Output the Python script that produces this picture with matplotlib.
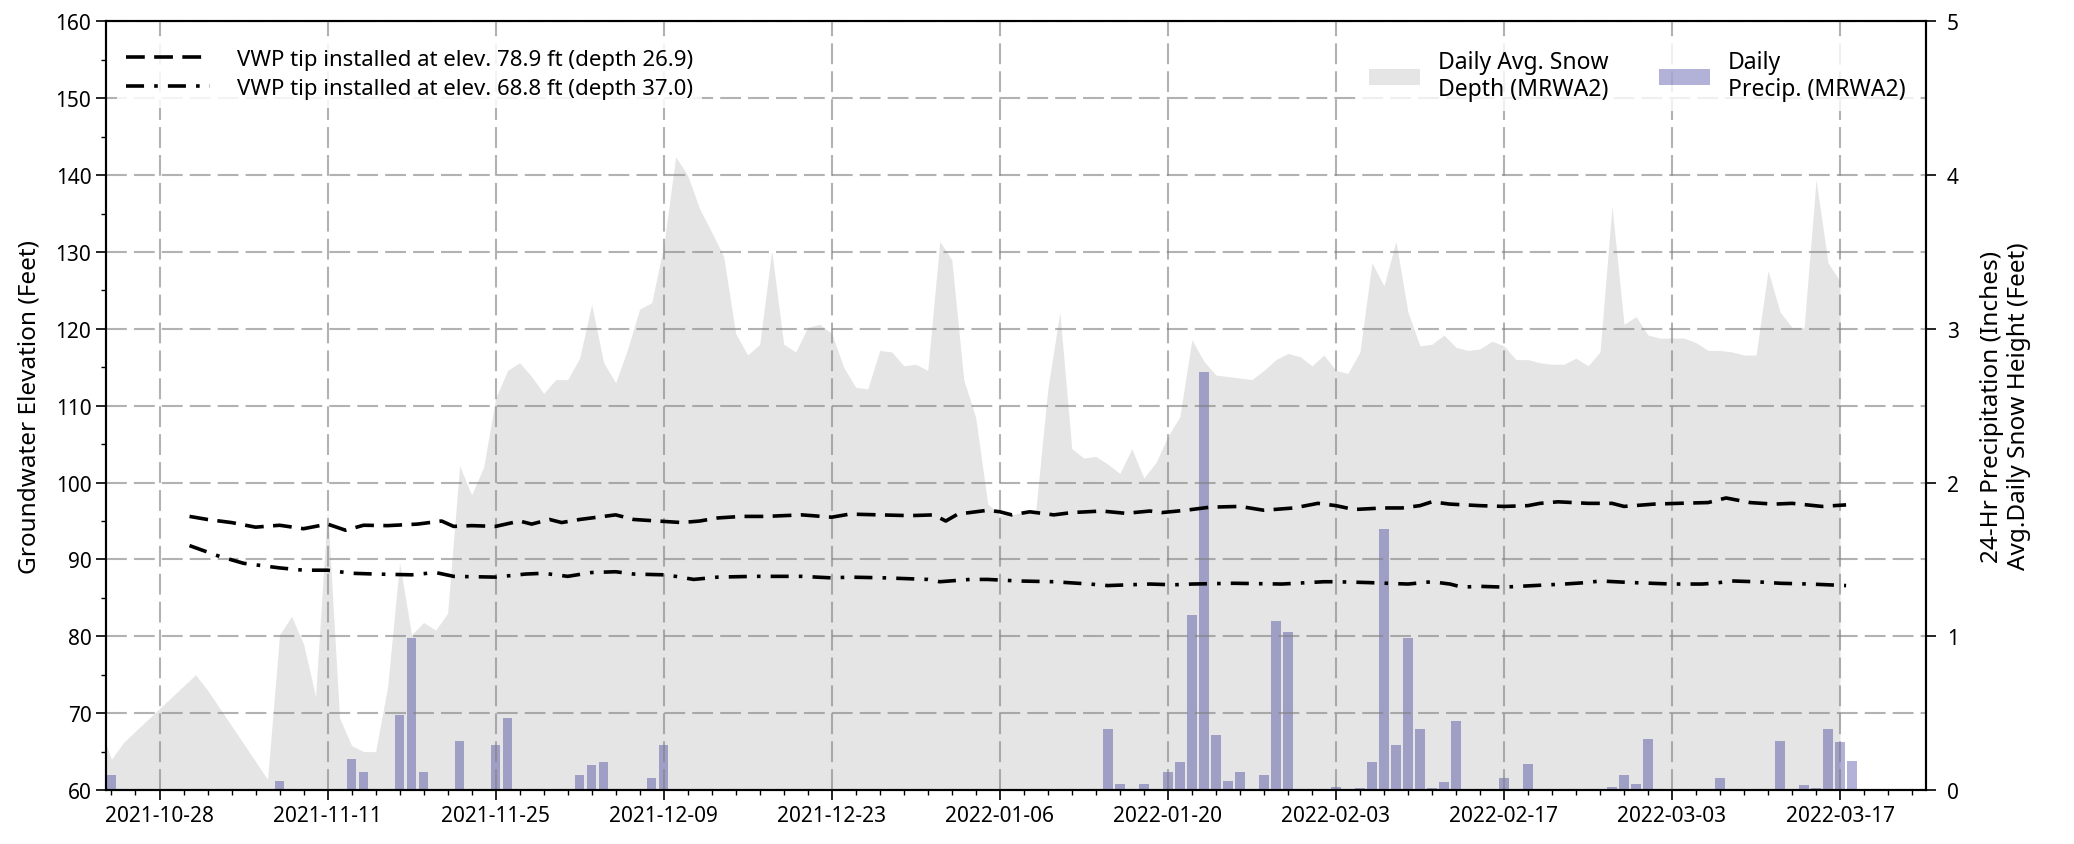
import matplotlib.pyplot as plt
import matplotlib.dates as mdates
from matplotlib.ticker import MultipleLocator, FixedLocator, NullLocator
import pandas as pd

plt.rcParams['font.family'] = ['Noto Sans', 'DejaVu Sans']
plt.rcParams['font.size'] = 15

# VWP tip 1 (elev. 78.9 ft) groundwater elevation readings, ft
vwp1_times = ["2021-10-30 12:00", "2021-11-01", "2021-11-03", "2021-11-05", "2021-11-07",
              "2021-11-09", "2021-11-11", "2021-11-12 12:00", "2021-11-14", "2021-11-16",
              "2021-11-18 12:00", "2021-11-20 12:00", "2021-11-21 12:00", "2021-11-23",
              "2021-11-25", "2021-11-27", "2021-11-28", "2021-11-29 12:00", "2021-11-30 12:00",
              "2021-12-02", "2021-12-03 12:00", "2021-12-05", "2021-12-06 12:00",
              "2021-12-08 12:00", "2021-12-10 12:00", "2021-12-12", "2021-12-13 12:00",
              "2021-12-15 12:00", "2021-12-17 12:00", "2021-12-20 12:00", "2021-12-23",
              "2021-12-24 12:00", "2021-12-27", "2021-12-29 12:00", "2021-12-31 12:00",
              "2022-01-01 12:00", "2022-01-02 12:00", "2022-01-05", "2022-01-06", "2022-01-07",
              "2022-01-08 12:00", "2022-01-10 12:00", "2022-01-12", "2022-01-14 12:00",
              "2022-01-16 12:00", "2022-01-18 12:00", "2022-01-19 12:00", "2022-01-21 12:00",
              "2022-01-23 12:00", "2022-01-26", "2022-01-28", "2022-01-30 12:00",
              "2022-02-01 12:00", "2022-02-03", "2022-02-04 12:00", "2022-02-07",
              "2022-02-08 12:00", "2022-02-10", "2022-02-11", "2022-02-12 12:00", "2022-02-15",
              "2022-02-17", "2022-02-19", "2022-02-20", "2022-02-21 12:00", "2022-02-24",
              "2022-02-26", "2022-02-27", "2022-03-01 12:00", "2022-03-03 12:00", "2022-03-06",
              "2022-03-07 12:00", "2022-03-09 12:00", "2022-03-11 12:00", "2022-03-13",
              "2022-03-15 12:00", "2022-03-17 12:00"]
vwp1_elev = [95.6, 95.2, 94.8, 94.2, 94.45, 94.0, 94.6, 93.8, 94.45, 94.4,
             94.6, 95.0, 94.3, 94.4, 94.3, 95.0, 94.6, 95.2, 94.8,
             95.2, 95.5, 95.8, 95.2, 95.0, 94.8, 95.0, 95.4,
             95.6, 95.6, 95.8, 95.5, 95.9, 95.8, 95.7, 95.8,
             95.0, 95.9, 96.4, 96.2, 95.8, 96.2, 95.8, 96.1, 96.3,
             96.0, 96.3, 96.1, 96.4, 96.8, 96.9, 96.4, 96.7,
             97.3, 97.0, 96.5, 96.7, 96.7, 97.0, 97.5, 97.2, 97.0,
             96.9, 97.0, 97.3, 97.5, 97.3, 97.3, 96.9, 97.2, 97.3, 97.4,
             98.0, 97.4, 97.2, 97.3, 96.9, 97.1]

# VWP tip 2 (elev. 68.8 ft) groundwater elevation readings, ft
vwp2_times = ["2021-10-30 12:00", "2021-11-02", "2021-11-04", "2021-11-07", "2021-11-09",
              "2021-11-11", "2021-11-13", "2021-11-15", "2021-11-18", "2021-11-20",
              "2021-11-21 12:00", "2021-11-25", "2021-11-27 12:00", "2021-11-29", "2021-12-01",
              "2021-12-03", "2021-12-05", "2021-12-06 12:00", "2021-12-09", "2021-12-10",
              "2021-12-11 12:00", "2021-12-13 12:00", "2021-12-16 12:00", "2021-12-20 12:00",
              "2021-12-23", "2021-12-24 12:00", "2021-12-27 12:00", "2021-12-31", "2022-01-01",
              "2022-01-03 12:00", "2022-01-05", "2022-01-07 12:00", "2022-01-10 12:00",
              "2022-01-13 12:00", "2022-01-15", "2022-01-18 12:00", "2022-01-20 12:00",
              "2022-01-22", "2022-01-25 12:00", "2022-01-29 12:00", "2022-02-02", "2022-02-03",
              "2022-02-05 12:00", "2022-02-09", "2022-02-11", "2022-02-12 12:00",
              "2022-02-13 12:00", "2022-02-15", "2022-02-17", "2022-02-19 12:00", "2022-02-22",
              "2022-02-24", "2022-02-25", "2022-02-27 12:00", "2022-03-03", "2022-03-05 12:00",
              "2022-03-06 12:00", "2022-03-08", "2022-03-10", "2022-03-12", "2022-03-14 12:00",
              "2022-03-17 12:00"]
vwp2_elev = [91.8, 90.4, 89.5, 88.9, 88.6, 88.6, 88.2, 88.1, 88.0, 88.3,
             87.8, 87.7, 88.1, 88.2, 87.8, 88.3, 88.4, 88.1, 88.0, 87.8,
             87.4, 87.7, 87.8, 87.8, 87.6, 87.7, 87.6, 87.4, 87.1,
             87.4, 87.4, 87.2, 87.1, 86.8, 86.6, 86.8, 86.7,
             86.8, 86.9, 86.8, 87.1, 87.1, 87.0, 86.8, 87.1, 86.8,
             86.4, 86.5, 86.4, 86.6, 86.8, 87.0, 87.2, 87.0, 86.8, 86.8,
             86.9, 87.2, 87.1, 86.9, 86.8, 86.6]

# daily average snow depth at MRWA2, ft
snow_dates = ["2021-10-23", "2021-10-24", "2021-10-25", "2021-10-31", "2021-11-01", "2021-11-06",
              "2021-11-07", "2021-11-08", "2021-11-09", "2021-11-10", "2021-11-11", "2021-11-12",
              "2021-11-13", "2021-11-14", "2021-11-15", "2021-11-16", "2021-11-17", "2021-11-18",
              "2021-11-19", "2021-11-20", "2021-11-21", "2021-11-22", "2021-11-23", "2021-11-24",
              "2021-11-25", "2021-11-26", "2021-11-27", "2021-11-28", "2021-11-29", "2021-11-30",
              "2021-12-01", "2021-12-02", "2021-12-03", "2021-12-04", "2021-12-05", "2021-12-06",
              "2021-12-07", "2021-12-08", "2021-12-09", "2021-12-10", "2021-12-11", "2021-12-12",
              "2021-12-13", "2021-12-14", "2021-12-15", "2021-12-16", "2021-12-17", "2021-12-18",
              "2021-12-19", "2021-12-20", "2021-12-21", "2021-12-22", "2021-12-23", "2021-12-24",
              "2021-12-25", "2021-12-26", "2021-12-27", "2021-12-28", "2021-12-29", "2021-12-30",
              "2021-12-31", "2022-01-01", "2022-01-02", "2022-01-03", "2022-01-04", "2022-01-05",
              "2022-01-06", "2022-01-07", "2022-01-08", "2022-01-09", "2022-01-10", "2022-01-11",
              "2022-01-12", "2022-01-13", "2022-01-14", "2022-01-15", "2022-01-16", "2022-01-17",
              "2022-01-18", "2022-01-19", "2022-01-20", "2022-01-21", "2022-01-22", "2022-01-23",
              "2022-01-24", "2022-01-25", "2022-01-26", "2022-01-27", "2022-01-28", "2022-01-29",
              "2022-01-30", "2022-01-31", "2022-02-01", "2022-02-02", "2022-02-03", "2022-02-04",
              "2022-02-05", "2022-02-06", "2022-02-07", "2022-02-08", "2022-02-09", "2022-02-10",
              "2022-02-11", "2022-02-12", "2022-02-13", "2022-02-14", "2022-02-15", "2022-02-16",
              "2022-02-17", "2022-02-18", "2022-02-19", "2022-02-20", "2022-02-21", "2022-02-22",
              "2022-02-23", "2022-02-24", "2022-02-25", "2022-02-26", "2022-02-27", "2022-02-28",
              "2022-03-01", "2022-03-02", "2022-03-03", "2022-03-04", "2022-03-05", "2022-03-06",
              "2022-03-07", "2022-03-08", "2022-03-09", "2022-03-10", "2022-03-11", "2022-03-12",
              "2022-03-13", "2022-03-14", "2022-03-15", "2022-03-16", "2022-03-17"]
snow_depth_ft = [0.42, 0.20, 0.31, 0.75, 0.65, 0.07,
                 1.01, 1.13, 0.95, 0.61, 1.83, 0.47,
                 0.29, 0.25, 0.25, 0.67, 1.48, 1.01,
                 1.09, 1.04, 1.15, 2.11, 1.92, 2.10,
                 2.55, 2.73, 2.78, 2.69, 2.58, 2.67,
                 2.67, 2.81, 3.16, 2.78, 2.65, 2.87,
                 3.13, 3.17, 3.54, 4.12, 4.00, 3.78,
                 3.63, 3.47, 2.97, 2.83, 2.90, 3.51,
                 2.90, 2.85, 3.01, 3.03, 2.97, 2.75,
                 2.62, 2.61, 2.86, 2.85, 2.76, 2.77,
                 2.73, 3.57, 3.45, 2.67, 2.42, 1.86,
                 1.79, 1.79, 1.81, 1.82, 2.61, 3.11,
                 2.22, 2.16, 2.17, 2.12, 2.06, 2.22,
                 2.03, 2.13, 2.30, 2.43, 2.93, 2.79,
                 2.70, 2.69, 2.68, 2.67, 2.73, 2.80,
                 2.84, 2.82, 2.76, 2.83, 2.73, 2.71,
                 2.85, 3.43, 3.28, 3.57, 3.11, 2.89,
                 2.90, 2.96, 2.88, 2.86, 2.87, 2.92,
                 2.89, 2.80, 2.80, 2.78, 2.77, 2.77,
                 2.81, 2.76, 2.85, 3.80, 3.03, 3.08,
                 2.96, 2.94, 2.94, 2.94, 2.91, 2.86,
                 2.86, 2.85, 2.83, 2.83, 3.38, 3.11,
                 3.01, 3.01, 3.97, 3.43, 3.31]

# 24-hr precipitation at MRWA2, inches
precip_dates = ["2021-10-24", "2021-11-07", "2021-11-13", "2021-11-14", "2021-11-17", "2021-11-18",
                "2021-11-19", "2021-11-22", "2021-11-25", "2021-11-26", "2021-12-02", "2021-12-03",
                "2021-12-04", "2021-12-08", "2021-12-09", "2022-01-15", "2022-01-16", "2022-01-18",
                "2022-01-20", "2022-01-21", "2022-01-22", "2022-01-23", "2022-01-24", "2022-01-25",
                "2022-01-26", "2022-01-28", "2022-01-29", "2022-01-30", "2022-02-03", "2022-02-05",
                "2022-02-06", "2022-02-07", "2022-02-08", "2022-02-09", "2022-02-10", "2022-02-11",
                "2022-02-12", "2022-02-13", "2022-02-17", "2022-02-19", "2022-02-26", "2022-02-27",
                "2022-02-28", "2022-03-01", "2022-03-07", "2022-03-12", "2022-03-14", "2022-03-15",
                "2022-03-16", "2022-03-17", "2022-03-18"]
precip_in = [0.10, 0.06, 0.20, 0.12, 0.49, 0.99,
             0.12, 0.32, 0.29, 0.47, 0.10, 0.16,
             0.18, 0.08, 0.29, 0.40, 0.04, 0.04,
             0.12, 0.18, 1.14, 2.72, 0.36, 0.06,
             0.12, 0.10, 1.10, 1.03, 0.02, 0.01,
             0.18, 1.70, 0.29, 0.99, 0.40, 0.01,
             0.05, 0.45, 0.08, 0.17, 0.02, 0.10,
             0.04, 0.33, 0.08, 0.32, 0.03, 0.01,
             0.40, 0.31, 0.19]


def to_dt(strings):
    return pd.to_datetime(strings, format='mixed')


fig = plt.figure(figsize=(20.74, 8.45), dpi=100)
ax1 = fig.add_axes([0.0511, 0.0639, 0.8776, 0.9095])
ax2 = ax1.twinx()

snow = ax2.fill_between(to_dt(snow_dates), snow_depth_ft, color='gray', alpha=0.2,
                        linewidth=0, label='Daily Avg. Snow\nDepth (MRWA2)')
bars = ax2.bar(to_dt(precip_dates), precip_in, width=0.8, color='navy', alpha=0.3,
               label='Daily\nPrecip. (MRWA2)')

l1, = ax1.plot(to_dt(vwp1_times), vwp1_elev, color='black', linewidth=2.6,
               linestyle=(0, (5.2, 2.6)),
               label='VWP tip installed at elev. 78.9 ft (depth 26.9)')
l2, = ax1.plot(to_dt(vwp2_times), vwp2_elev, color='black', linewidth=2.6,
               linestyle=(0, (5.0, 2.8, 1.0, 2.8)),
               label='VWP tip installed at elev. 68.8 ft (depth 37.0)')

# keep the lines and grid above the snow/precip axis
ax1.set_zorder(ax2.get_zorder() + 1)
ax1.patch.set_visible(False)

ax1.set_xlim(pd.Timestamp('2021-10-23 13:00'), pd.Timestamp('2022-03-24 04:00'))
ax1.set_ylim(60, 160)
ax2.set_ylim(0, 5)

major_days = pd.date_range('2021-10-28', '2022-03-17', freq='14D')
minor_days = pd.date_range('2021-10-24', '2022-03-24', freq='2D')
ax1.xaxis.set_major_locator(FixedLocator(mdates.date2num(major_days)))
ax1.xaxis.set_minor_locator(FixedLocator(mdates.date2num(minor_days)))
ax1.xaxis.set_major_formatter(mdates.DateFormatter('%Y-%m-%d'))
ax1.yaxis.set_major_locator(MultipleLocator(10))
ax1.yaxis.set_minor_locator(MultipleLocator(5))
ax2.yaxis.set_major_locator(MultipleLocator(1))
ax2.yaxis.set_minor_locator(NullLocator())

for ax in (ax1, ax2):
    ax.tick_params(which='major', length=7, width=1.2, direction='out')
    ax.tick_params(which='minor', length=3.8, width=1.0, direction='out')
    for s in ax.spines.values():
        s.set_linewidth(1.5)
ax2.tick_params(axis='y', pad=8)

ax1.grid(True, which='major', color='gray', alpha=0.6, linewidth=1.5, linestyle=(0, (10, 3.4)))

ax1.set_ylabel('Groundwater Elevation (Feet)', fontsize=17.5, labelpad=10)
ax2.set_ylabel('24-Hr Precipitation (Inches)\nAvg.Daily Snow Height (Feet)', fontsize=17.5,
               labelpad=15)

leg1 = ax1.legend(handles=[l1, l2], loc='upper left', bbox_to_anchor=(0, 0.99), fontsize=16,
                  handlelength=3.8, handletextpad=1.2, labelspacing=0.35, edgecolor='none',
                  framealpha=0.85)
ax1.add_artist(leg1)
ax1.legend(handles=[snow, bars], loc='upper right', bbox_to_anchor=(1, 0.99), ncol=2,
           fontsize=16.5, handlelength=2.2, columnspacing=2.2, edgecolor='none', framealpha=0.8)

fig.savefig('out.png', dpi=100)
